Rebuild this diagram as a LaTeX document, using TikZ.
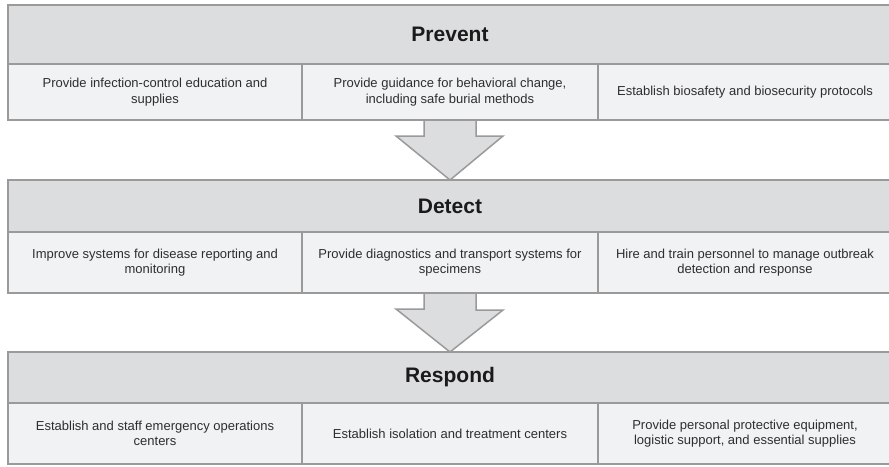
\documentclass[tikz,border=0pt]{standalone}
\usepackage{fontspec}
\setmainfont{Liberation Sans}
\usetikzlibrary{backgrounds}
\definecolor{hdrfill}{HTML}{DCDDDF}
\definecolor{cellfill}{HTML}{F1F2F4}
\definecolor{edge}{HTML}{9A9A9A}
\definecolor{hdrtext}{HTML}{1A1A1A}
\definecolor{celltext}{HTML}{2E2E2E}
\tikzset{
  hdr/.style={draw=edge, line width=1.5pt, fill=hdrfill, inner sep=0pt, outer sep=0pt,
    anchor=north west, minimum width=884pt, text=hdrtext,
    font=\fontsize{21}{25}\selectfont\bfseries},
  cell/.style={draw=edge, line width=1.5pt, fill=cellfill, inner sep=0pt, outer sep=0pt,
    anchor=north west, align=center, text=celltext,
    font=\fontsize{13}{15.5}\selectfont},
  blockarrow/.style={draw=edge, line width=1.5pt, fill=hdrfill, line join=miter}
}
\begin{document}
\begin{tikzpicture}[x=1pt,y=-1pt]
\useasboundingbox (0,0) rectangle (889,466);
\clip (0,0) rectangle (889,466);
% Prevent
\node[hdr, minimum height=59pt] (prevent) at (8,5) {Prevent};
\node[cell, minimum width=294pt, minimum height=56pt] (p1) at (8,64) {Provide infection-control education and\\supplies};
\node[cell, minimum width=296pt, minimum height=56pt] (p2) at (302,64) {Provide guidance for behavioral change,\\including safe burial methods};
\node[cell, minimum width=294pt, minimum height=56pt] (p3) at (598,64) {Establish biosafety and biosecurity protocols};
% Detect
\node[hdr, minimum height=52pt] (detect) at (8,180) {Detect};
\node[cell, minimum width=294pt, minimum height=61pt] (d1) at (8,232) {Improve systems for disease reporting and\\monitoring};
\node[cell, minimum width=296pt, minimum height=61pt] (d2) at (302,232) {Provide diagnostics and transport systems for\\specimens};
\node[cell, minimum width=294pt, minimum height=61pt] (d3) at (598,232) {Hire and train personnel to manage outbreak\\detection and response};
% Respond
\node[hdr, minimum height=51pt] (respond) at (8,352) {Respond};
\node[cell, minimum width=294pt, minimum height=61pt] (r1) at (8,403) {Establish and staff emergency operations\\centers};
\node[cell, minimum width=296pt, minimum height=61pt] (r2) at (302,403) {Establish isolation and treatment centers};
\node[cell, minimum width=294pt, minimum height=61pt] (r3) at (598,403) {Provide personal protective equipment,\\logistic support, and essential supplies};
% Block arrows
\begin{scope}[on background layer]
\filldraw[blockarrow] ([xshift=-26pt]p2.south) -- ++(0,16) -- ++(-28,0) -- (detect.north)
  -- ++(53,-44) -- ++(-27,0) -- ++(0,-16);
\filldraw[blockarrow] ([xshift=-26pt]d2.south) -- ++(0,16) -- ++(-28,0) -- (respond.north)
  -- ++(53,-42) -- ++(-27,0) -- ++(0,-16);
\end{scope}
\end{tikzpicture}
\end{document}
